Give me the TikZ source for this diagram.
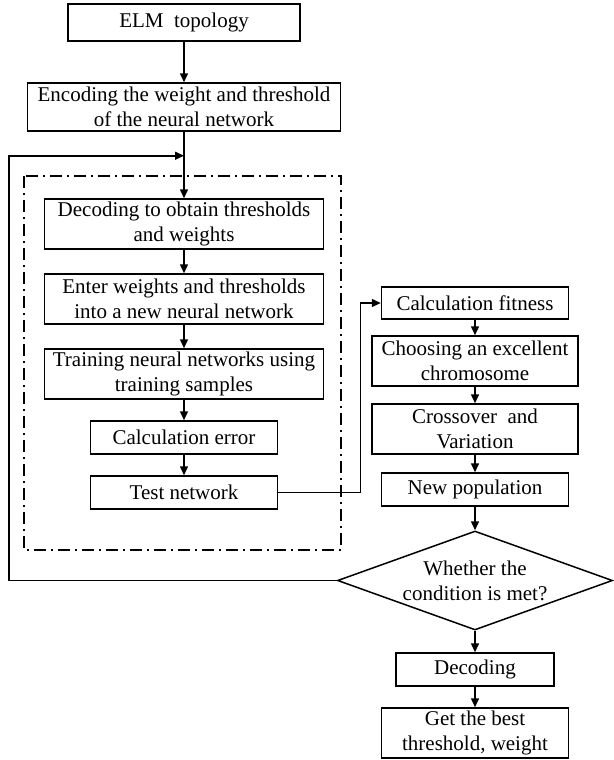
\documentclass[tikz,border=0pt]{standalone}
\usepackage{fontspec}
\setmainfont{Liberation Serif}
\usetikzlibrary{positioning,shapes.geometric,arrows.meta}

\tikzset{
    blk/.style={draw, line width=1.5pt, minimum height=50pt, align=center, inner sep=0pt},
    arr/.style={line width=1.5pt, -{Triangle[length=9pt,width=8pt]}},
    dashdot box/.style={line width=1.5pt, dash pattern=on 12pt off 5pt on 2pt off 5pt}
}

\begin{document}
\begin{tikzpicture}[x=1pt, y=1pt, node distance=75pt, font=\fontsize{21}{25}\selectfont]
    \useasboundingbox (0,0) rectangle (613,-760);

    % left column
    \node[blk, minimum width=232pt, minimum height=37pt] (elm) at (184,-22.5) {ELM\ \ topology};
    \node[blk, minimum width=313pt, minimum height=48pt] (enc) [below of=elm, node distance=84.5pt] {Encoding the weight and threshold\\of the neural network};
    \node[blk, minimum width=279pt] (dec) [below of=enc, node distance=117pt] {Decoding to obtain thresholds\\and weights};
    \node[blk, minimum width=279pt] (enter) [below of=dec] {Enter weights and thresholds\\into a new neural network};
    \node[blk, minimum width=279pt] (train) [below of=enter] {Training neural networks using\\training samples};
    \node[blk, minimum width=187pt, minimum height=33pt] (err) [below of=train, node distance=63.5pt] {Calculation error};
    \node[blk, minimum width=187pt, minimum height=33pt] (test) [below of=err, node distance=55pt] {Test network};

    % right column
    \node[blk, minimum width=187pt, minimum height=32pt] (fit) [right of=enter, node distance=291pt, yshift=-4pt] {Calculation fitness};
    \node[blk, minimum width=206pt] (choose) [below of=fit, node distance=58pt] {Choosing an excellent\\chromosome};
    \node[blk, minimum width=206pt] (cross) [below of=choose, node distance=68pt] {Crossover\ \ and\\Variation};
    \node[blk, minimum width=187pt, minimum height=33pt] (newpop) [below of=cross, node distance=60.5pt] {New population};
    \node[draw, line width=1.5pt, diamond, aspect=2.78, inner sep=0pt, minimum width=275pt, minimum height=99pt, align=center] (cond) [below of=newpop, node distance=91pt] {Whether the\\condition is met?};
    \node[blk, minimum width=158pt, minimum height=33pt] (decode) [below of=cond, node distance=89pt] {Decoding};
    \node[blk, minimum width=187pt] (best) [below of=decode, node distance=63.5pt] {Get the best\\threshold, weight};

    % dash-dot frame round the network part
    \draw[dashdot box] (24,-176) rectangle (341,-550);

    \coordinate[below=24pt of enc.south] (merge);
    \coordinate (corner) at (9,-580.5);

    \draw[arr] (elm) -- (enc);
    \draw[arr] (enc) -- (dec);
    \draw[arr] (dec) -- (enter);
    \draw[arr] (enter) -- (train);
    \draw[arr] (train) -- (err);
    \draw[arr] (err) -- (test);
    \draw[arr] (test.east) -- ++(82pt,0) |- (fit.west);
    \draw[arr] (fit) -- (choose);
    \draw[arr] (choose) -- (cross);
    \draw[arr] (cross) -- (newpop);
    \draw[arr] (newpop) -- (cond);
    \draw[arr] (cond) -- (decode);
    \draw[arr] (decode) -- (best);
    \draw[arr] (cond.west) -- (corner) |- (merge);
\end{tikzpicture}
\end{document}
